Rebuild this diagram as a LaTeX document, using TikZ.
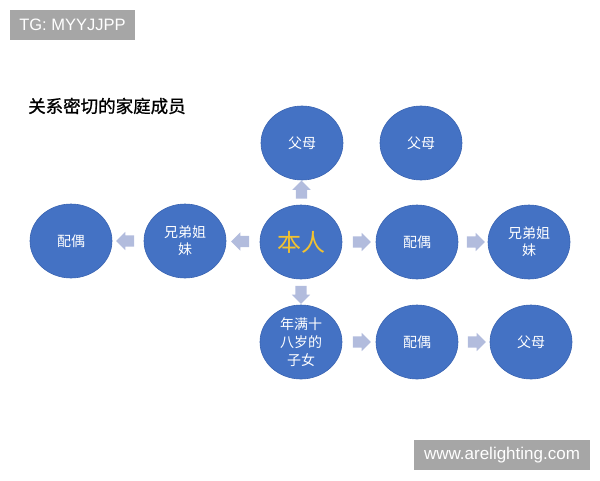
\documentclass[tikz,border=0pt]{standalone}
\usepackage{fontspec}
\setsansfont{Liberation Sans}
\newfontfamily\cjk{Noto Sans CJK SC}
\newfontfamily\cjktitle[FakeBold=1]{Noto Sans CJK SC}
\usetikzlibrary{shapes.geometric,shapes.arrows,calc}
\definecolor{nodeblue}{HTML}{4472C4}
\definecolor{nodeedge}{HTML}{3A64B2}
\definecolor{arrowblue}{HTML}{B2BCDD}
\definecolor{markgray}{HTML}{A6A6A6}
\definecolor{selfgold}{HTML}{F2C230}
\tikzset{
  member/.style={ellipse,fill=nodeblue,draw=nodeedge,line width=0.6pt,minimum width=82pt,minimum height=74pt,inner sep=0pt,text=white,font=\cjk\fontsize{14}{17}\selectfont,align=center},
  blockarrow/.style={single arrow,fill=arrowblue,draw=none,minimum height=18pt,inner sep=5.5pt,single arrow head extend=3.5pt},
  watermark/.style={text=white,font=\sffamily\fontsize{16.5}{18}\selectfont}
}
\begin{document}
\begin{tikzpicture}[x=1pt,y=-1pt]
\useasboundingbox (0,0) rectangle (600,480);
% watermarks
\fill[markgray] (10,10) rectangle (135,40);
\node[watermark] (tg) at (72.5,25) {TG: MYYJJPP};
\fill[markgray] (414,440) rectangle (590,470);
\node[watermark,font=\sffamily\fontsize{17}{18}\selectfont] (web) at (502,455) {www.arelighting.com};
% title
\node[anchor=west,font=\cjktitle\fontsize{17.5}{19}\selectfont,inner sep=0pt] (title) at (28,106) {关系密切的家庭成员};
% members
\node[member] (fm1) at (302,143) {父母};
\node[member] (fm2) at (421,143) {父母};
\node[member] (sp0) at (71,241) {配偶};
\node[member] (sib1) at (185,241) {兄弟姐\\妹};
\node[member,text=selfgold,font=\cjk\fontsize{24}{26}\selectfont] (self) at (301,242) {本人};
\node[member] (sp1) at (417,242) {配偶};
\node[member] (sib2) at (529,242) {兄弟姐\\妹};
\node[member,font=\cjk\fontsize{14}{18}\selectfont] (child) at (301,342) {年满十\\八岁的\\子女};
\node[member] (sp2) at (417,342) {配偶};
\node[member] (fm3) at (531,342) {父母};
% arrows
\foreach \a/\b/\ang in {self/fm1/90,self/child/270,self/sib1/180,sib1/sp0/180,self/sp1/0,sp1/sib2/0,child/sp2/0,sp2/fm3/0}
  \node[blockarrow,shape border rotate=\ang] (arr-\a-\b) at ($(\a)!0.5!(\b)$) {};
\end{tikzpicture}
\end{document}
